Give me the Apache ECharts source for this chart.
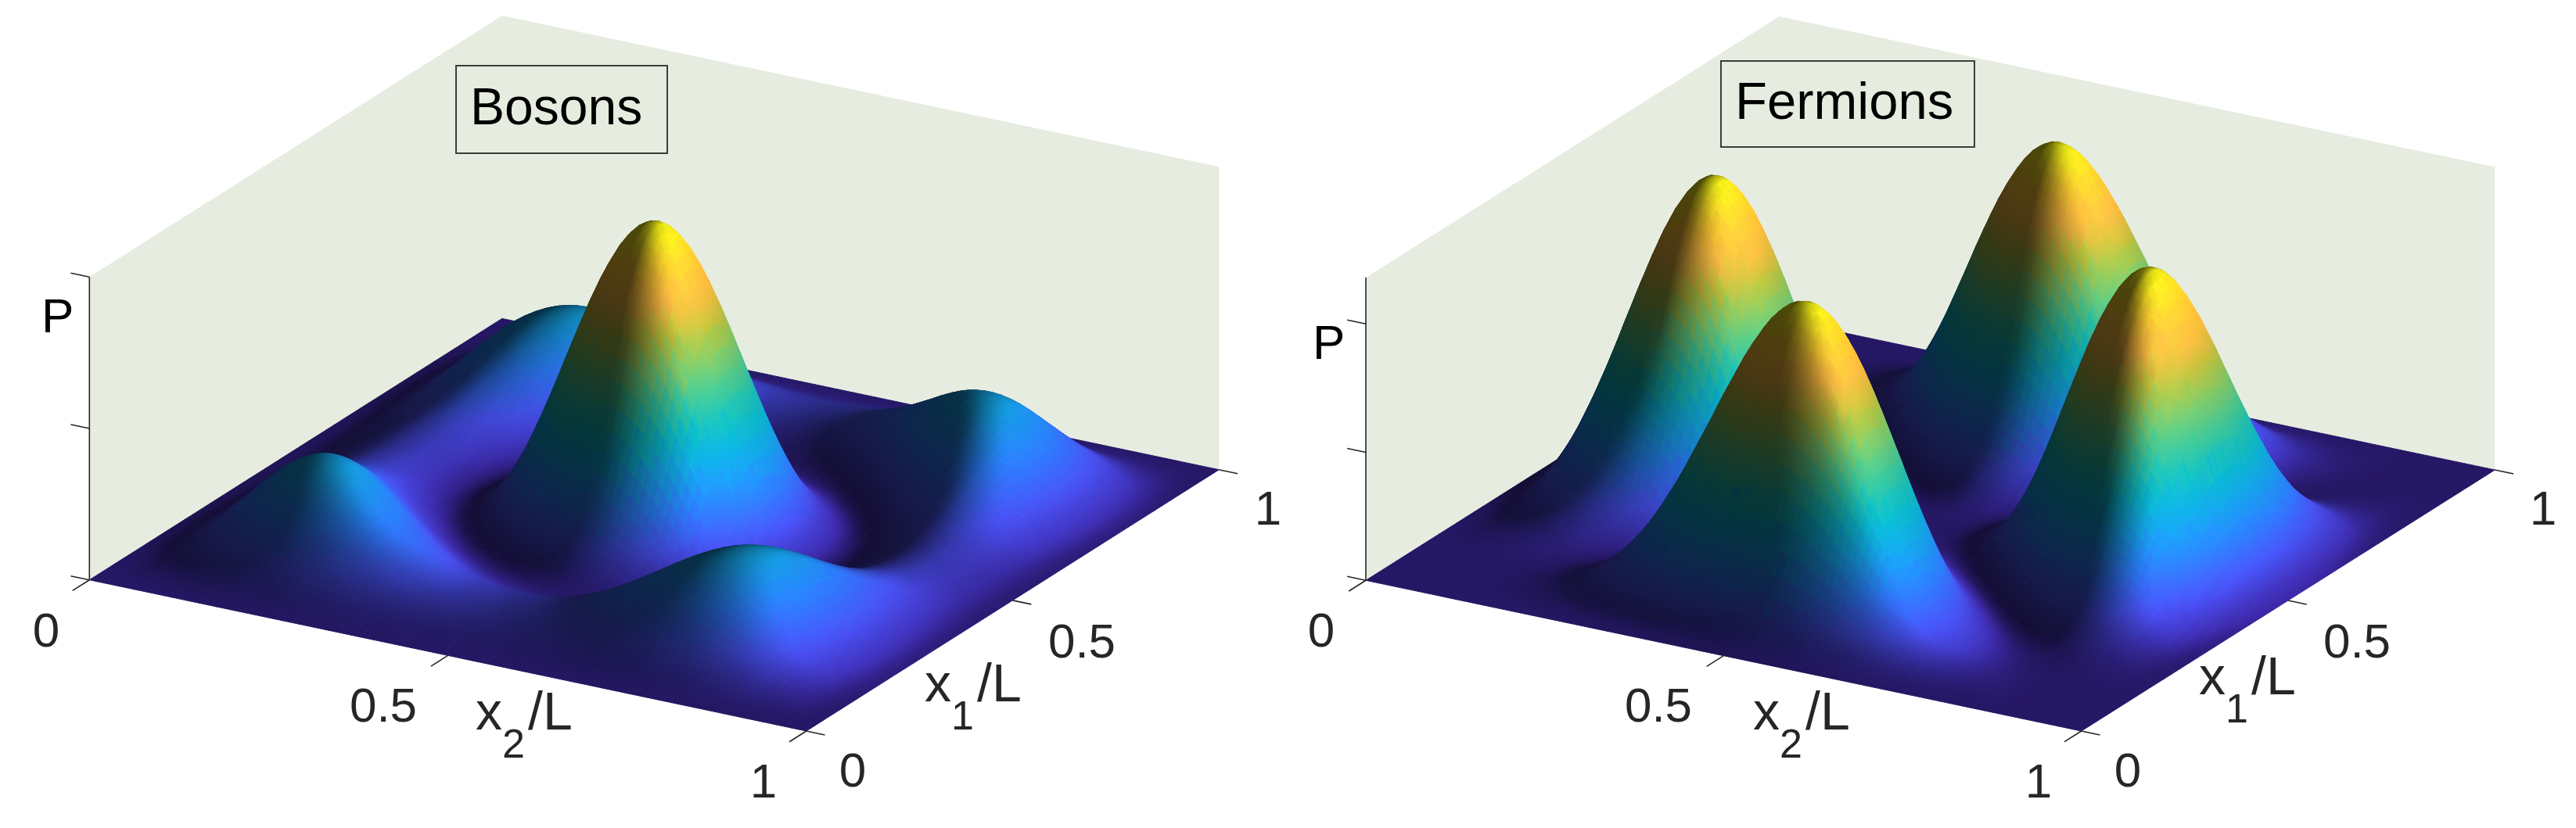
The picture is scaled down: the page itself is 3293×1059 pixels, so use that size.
<!DOCTYPE html>
<html>
<head>
<meta charset="utf-8">
<script src="https://cdn.jsdelivr.net/npm/echarts@6/dist/echarts.min.js"></script>
<style>
  html, body { margin: 0; padding: 0; background: #fff; }
  #chart { width: 3293px; height: 1059px; }
</style>
</head>
<body>
<div id="chart"></div>
<script>
// P, in thousandths of the box height. Rows are x1, columns x2,
// from 0 to 0.5 in steps of 1/32; both surfaces mirror about x = 0.5.
const bosonsQuadrant = [
  [0,0,0,0,0,0,0,0,0,0,0,0,0,0,0,0,0],
  [0,1,3,6,10,14,17,18,19,18,17,15,13,12,10,10,9],
  [0,3,12,24,39,52,63,69,71,68,63,55,48,42,37,34,33],
  [0,6,24,50,80,107,128,139,141,135,122,107,91,77,67,60,58],
  [0,10,39,80,125,167,197,213,213,200,178,151,125,103,86,77,73],
  [0,14,52,107,167,220,258,274,269,246,211,173,137,107,85,73,69],
  [0,17,63,128,197,258,297,309,295,260,213,164,120,86,63,49,45],
  [0,18,69,139,213,274,309,313,287,240,184,128,82,49,28,18,15],
  [0,19,71,141,213,269,295,287,250,194,132,77,37,13,3,0,0],
  [0,18,68,135,200,246,260,240,194,133,74,29,5,0,8,18,23],
  [0,17,63,122,178,211,213,184,132,74,26,2,5,29,62,90,101],
  [0,15,55,107,151,173,164,128,77,29,2,7,46,107,172,222,240],
  [0,13,48,91,125,137,120,82,37,5,5,46,125,227,327,400,427],
  [0,12,42,77,103,107,86,49,13,0,29,107,227,368,502,598,633],
  [0,10,37,67,86,85,63,28,3,8,62,172,327,502,665,780,821],
  [0,10,34,60,77,73,49,18,0,18,90,222,400,598,780,907,953],
  [0,9,33,58,73,69,45,15,0,23,101,240,427,633,821,953,1000]
];
const fermionsQuadrant = [
  [0,0,0,0,0,0,0,0,0,0,0,0,0,0,0,0,0],
  [0,0,0,0,0,1,2,4,8,13,21,30,39,49,56,62,64],
  [0,0,0,0,0,2,6,14,27,48,76,109,146,181,211,231,238],
  [0,0,0,0,0,2,9,23,49,90,145,213,287,360,421,462,477],
  [0,0,0,0,0,1,8,26,62,120,203,306,422,535,632,697,720],
  [0,1,2,2,1,0,3,20,58,126,228,360,510,660,789,876,907],
  [0,2,6,9,8,3,0,7,38,104,211,356,528,703,855,959,995],
  [0,4,14,23,26,20,7,0,13,62,157,298,472,655,817,929,969],
  [0,8,27,49,62,58,38,13,0,19,85,202,360,534,692,804,843],
  [0,13,48,90,120,126,104,62,19,0,25,102,226,374,515,616,653],
  [0,21,76,145,203,228,211,157,85,25,0,27,105,215,328,413,444],
  [0,30,109,213,306,360,356,298,202,102,27,0,26,91,171,235,259],
  [0,39,146,287,422,510,528,472,360,226,105,26,0,20,65,107,123],
  [0,49,181,360,535,660,703,655,534,374,215,91,20,0,13,34,44],
  [0,56,211,421,632,789,855,817,692,515,328,171,65,13,0,5,9],
  [0,62,231,462,697,876,959,929,804,616,413,235,107,34,5,0,1],
  [0,64,238,477,720,907,995,969,843,653,444,259,123,44,9,1,0]
];
const axisTicks = [0, 0.5, 1];
const bosonsPTicks = [0, 0.5, 1];
const fermionsPTicks = [0, 0.423, 0.847];
const tickLabels = ['0', '0.5', '1'];
const panelTitles = ['Bosons', 'Fermions'];

const WALL = '#e6ecdf';
const INK = '#262626';
const FONT = '"Liberation Sans", Arial, sans-serif';
const GRID = 32;
// the surface is drawn as a smooth patch between the read values, like shading interp
const SUB = 3;
const MESH = GRID * SUB;

// parula, tuned by eye to the surface
const colormap = [
  [0.2422, 0.1504, 0.6603], [0.2810, 0.3228, 0.9579], [0.1700, 0.4900, 0.9900],
  [0.0800, 0.6300, 0.9000], [0.0300, 0.7100, 0.7800], [0.1978, 0.7500, 0.6000],
  [0.4500, 0.7700, 0.4300], [0.7200, 0.7400, 0.2200], [1.0000, 0.7200, 0.2600],
  [1.0000, 0.8200, 0.1800], [0.9769, 0.9839, 0.0805]
];
const light = {ambient: 0.3, diffuse: 1.05, max: 1, specular: 0.08, shininess: 10};
// view axes of the MATLAB camera, in (x2, x1, P) box units
const camRight = [0.866, 0.5, 0];
const camUp = [-0.1825, 0.316, 0.931];
const camView = [0.4655, -0.806, 0.365];
const boxHeight = 0.393;
const lightCam = [0.9, 0.15, 0.4];

const dot = (a, b) => a[0] * b[0] + a[1] * b[1] + a[2] * b[2];
const unit = (a) => {
  const n = Math.sqrt(dot(a, a));
  return [a[0] / n, a[1] / n, a[2] / n];
};
const lightDir = unit([0, 1, 2].map(k => lightCam[0] * camRight[k] + lightCam[1] * camUp[k] + lightCam[2] * camView[k]));
const halfDir = unit([0, 1, 2].map(k => lightDir[k] + camView[k]));

const mirrorIndex = (k) => (k <= GRID / 2 ? k : GRID - k);

const smoothLine = (values) => {
  const out = [];
  const at = (k) => values[Math.min(Math.max(k, 0), GRID)];
  for (let k = 0; k < GRID; k++) {
    for (let s = 0; s < SUB; s++) {
      const t = s / SUB;
      const p0 = at(k - 1), p1 = at(k), p2 = at(k + 1), p3 = at(k + 2);
      out.push(p1 + 0.5 * t * (p2 - p0 + t * (2 * p0 - 5 * p1 + 4 * p2 - p3 + t * (3 * (p1 - p2) + p3 - p0))));
    }
  }
  out.push(values[GRID]);
  return out;
};

const meshHeights = (quadrant) => {
  const dataRows = [];
  for (let i = 0; i <= GRID; i++) {
    const row = [];
    for (let j = 0; j <= GRID; j++) {
      row.push(quadrant[mirrorIndex(i)][mirrorIndex(j)] / 1000);
    }
    dataRows.push(smoothLine(row));
  }
  const columns = [];
  for (let j = 0; j <= MESH; j++) {
    columns.push(smoothLine(dataRows.map(row => row[j])));
  }
  const mesh = [];
  for (let i = 0; i <= MESH; i++) {
    mesh.push(columns.map(col => Math.max(col[i], 0)));
  }
  return mesh;
};

const colormapAt = (t) => {
  const pos = Math.min(Math.max(t, 0), 1) * (colormap.length - 1);
  const lo = Math.min(Math.floor(pos), colormap.length - 2);
  const f = pos - lo;
  return colormap[lo].map((c, k) => c + (colormap[lo + 1][k] - c) * f);
};

const vertexColors = (mesh) => {
  const rows = [];
  for (let i = 0; i <= MESH; i++) {
    const row = [];
    for (let j = 0; j <= MESH; j++) {
      const jp = Math.min(j + 1, MESH), jm = Math.max(j - 1, 0);
      const ip = Math.min(i + 1, MESH), im = Math.max(i - 1, 0);
      const dX = (mesh[i][jp] - mesh[i][jm]) * boxHeight * MESH / (jp - jm);
      const dY = (mesh[ip][j] - mesh[im][j]) * boxHeight * MESH / (ip - im);
      const normal = unit([-dX, -dY, 1]);
      const diff = Math.max(0, dot(normal, lightDir));
      const spec = Math.pow(Math.max(0, dot(normal, halfDir)), light.shininess);
      const base = colormapAt(mesh[i][j]);
      const level = Math.min(light.max, light.ambient + light.diffuse * diff) + light.specular * spec;
      row.push(base.map(c => Math.round(Math.min(1, c * level) * 255)));
    }
    rows.push(row);
  }
  return rows;
};

// fill of one mesh cell: a linear gradient along the steepest colour change on screen
const cellFill = (points, rgbs) => {
  const lum = rgbs.map(c => c[0] + c[1] + c[2]);
  const d1 = [points[2][0] - points[0][0], points[2][1] - points[0][1]];
  const d2 = [points[3][0] - points[1][0], points[3][1] - points[1][1]];
  const l1 = lum[2] - lum[0], l2 = lum[3] - lum[1];
  const det = d1[0] * d2[1] - d1[1] * d2[0];
  const flat = `rgb(${[0, 1, 2].map(k => Math.round((rgbs[0][k] + rgbs[1][k] + rgbs[2][k] + rgbs[3][k]) / 4)).join(',')})`;
  if (Math.abs(det) < 4 || (l1 === 0 && l2 === 0)) {
    return flat;
  }
  const gx = (l1 * d2[1] - l2 * d1[1]) / det;
  const gy = (d1[0] * l2 - d2[0] * l1) / det;
  const norm = Math.hypot(gx, gy);
  if (norm < 1e-6) {
    return flat;
  }
  const ux = gx / norm, uy = gy / norm;
  const along = points.map(p => p[0] * ux + p[1] * uy);
  let lo = 0, hi = 0;
  along.forEach((v, k) => {
    if (v < along[lo]) lo = k;
    if (v > along[hi]) hi = k;
  });
  const span = along[hi] - along[lo];
  return {
    type: 'linear', global: true,
    x: points[lo][0], y: points[lo][1], x2: points[lo][0] + ux * span, y2: points[lo][1] + uy * span,
    colorStops: [
      {offset: 0, color: `rgb(${rgbs[lo].join(',')})`},
      {offset: 1, color: `rgb(${rgbs[hi].join(',')})`}
    ]
  };
};

const panels = [
  {
    quadrant: bosonsQuadrant, pTicks: bosonsPTicks, title: panelTitles[0], titleSize: 66,
    origin: [114.3, 741.7], ex2: [916.4, 193.3], ex1: [527.6, -334.3], ez: [0, -387.4],
    box: [583, 84, 270, 112], titleAt: [601, 164], labelDx: 0, pAt: [53, 429], x1LabelAt: [1182, 902], x2LabelAt: [608, 938]
  },
  {
    quadrant: fermionsQuadrant, pTicks: fermionsPTicks, title: panelTitles[1], titleSize: 67,
    origin: [1746, 742.3], ex2: [914.7, 192.7], ex1: [528.6, -334], ez: [0, -387.4],
    box: [2200, 78, 324, 110], titleAt: [2218, 157], labelDx: 1630, pAt: [1678, 463], x1LabelAt: [2811, 893], x2LabelAt: [2241, 938]
  }
];

const project = (panel, x2, x1, p) => [
  panel.origin[0] + panel.ex2[0] * x2 + panel.ex1[0] * x1 + panel.ez[0] * p,
  panel.origin[1] + panel.ex2[1] * x2 + panel.ex1[1] * x1 + panel.ez[1] * p
];

const surfaceSeries = (panel) => {
  const mesh = meshHeights(panel.quadrant);
  const colors = vertexColors(mesh);
  const cells = [];
  // painter's order: from the back corner (x2 = 0, x1 = 1) to the front one
  for (let i = MESH - 1; i >= 0; i--) {
    for (let j = 0; j < MESH; j++) {
      cells.push([j, i]);
    }
  }
  return {
    type: 'custom',
    coordinateSystem: 'cartesian2d',
    data: cells,
    z: 3,
    clip: false,
    silent: true,
    progressive: 0,
    renderItem: (params, api) => {
      const j = api.value(0), i = api.value(1);
      const corners = [[i, j], [i, j + 1], [i + 1, j + 1], [i + 1, j]];
      const points = corners.map(c => api.coord(project(panel, c[1] / MESH, c[0] / MESH, mesh[c[0]][c[1]])));
      const fill = cellFill(points, corners.map(c => colors[c[0]][c[1]]));
      return {type: 'polygon', shape: {points}, style: {fill, stroke: fill, lineWidth: 1}};
    }
  };
};

const frameSeries = (panel) => ({
  type: 'custom',
  coordinateSystem: 'cartesian2d',
  data: [[0, 0]],
  z: 1,
  clip: false,
  silent: true,
  renderItem: (params, api) => {
    const at = (x2, x1, p) => api.coord(project(panel, x2, x1, p));
    const tick = (from, to) => ({
      type: 'line',
      shape: {x1: from[0], y1: from[1], x2: to[0], y2: to[1]},
      style: {stroke: INK, lineWidth: 1.6}
    });
    const children = [
      {type: 'polygon', shape: {points: [at(0, 0, 0), at(0, 0, 1), at(0, 1, 1), at(1, 1, 1), at(1, 1, 0), at(0, 1, 0)]}, style: {fill: WALL}},
      tick(at(0, 0, 0), at(0, 0, 1))
    ];
    panel.pTicks.forEach(p => children.push(tick(at(0, 0, p), at(-0.026, 0, p))));
    axisTicks.forEach(t => children.push(tick(at(t, 0, 0), at(t, -0.041, 0))));
    axisTicks.forEach(t => children.push(tick(at(1, t, 0), at(1.026, t, 0))));
    return {type: 'group', children};
  }
});

const text = (str, x, baseline, size, align, fill) => ({
  type: 'text',
  z: 10,
  style: {
    text: str, x, y: baseline - 0.346 * size,
    font: `${size}px ${FONT}`, fill: fill || INK,
    textAlign: align || 'center', textVerticalAlign: 'middle'
  }
});

const panelGraphics = (panel) => {
  const dx = panel.labelDx;
  const [bx, by, bw, bh] = panel.box;
  return [
    {type: 'rect', z: 9, shape: {x: bx, y: by, width: bw, height: bh}, style: {fill: WALL, stroke: '#3c3f38', lineWidth: 2}},
    text(panel.title, panel.titleAt[0], panel.titleAt[1], panel.titleSize, 'left', '#000000'),
    text(tickLabels[0], 59 + dx, 831, 62),
    text(tickLabels[1], 490 + dx, 927, 62),
    text(tickLabels[2], 976 + dx, 1024, 62),
    text(tickLabels[0], 1090 + dx, 1010, 62),
    text(tickLabels[1], 1383 + dx, 845, 62),
    text(tickLabels[2], 1621 + dx, 675, 62),
    text('P', panel.pAt[0], panel.pAt[1], 62, 'left', '#000000'),
    text('x', panel.x2LabelAt[0], panel.x2LabelAt[1], 68, 'left'),
    text('2', panel.x2LabelAt[0] + 34, panel.x2LabelAt[1] + 35, 52, 'left'),
    text('/L', panel.x2LabelAt[0] + 67, panel.x2LabelAt[1], 68, 'left'),
    text('x', panel.x1LabelAt[0], panel.x1LabelAt[1], 68, 'left'),
    text('1', panel.x1LabelAt[0] + 34, panel.x1LabelAt[1] + 35, 52, 'left'),
    text('/L', panel.x1LabelAt[0] + 67, panel.x1LabelAt[1], 68, 'left')
  ];
};

const chart = echarts.init(document.getElementById('chart'));
chart.setOption({
  animation: false,
  backgroundColor: '#ffffff',
  grid: {left: 0, right: 0, top: 0, bottom: 0},
  xAxis: {type: 'value', min: 0, max: 3293, show: false},
  yAxis: {type: 'value', min: 0, max: 1059, inverse: true, show: false},
  graphic: {elements: panels.flatMap(panelGraphics)},
  series: panels.flatMap(panel => [frameSeries(panel), surfaceSeries(panel)])
});
</script>
</body>
</html>
